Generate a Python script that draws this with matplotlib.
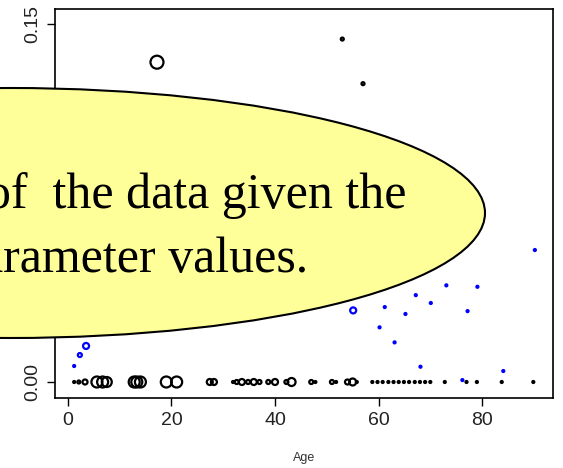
import matplotlib
matplotlib.use("Agg")
import matplotlib.pyplot as plt
from matplotlib.patches import Ellipse
import numpy as np

# black series: age, value, marker diameter (px, stands for the weight of each point)
age_blk = [1.2, 2.1, 3.3, 5.6, 6.7, 7.5, 12.8, 13.3, 14.0, 19.0, 21.0, 27.4, 28.2,
           31.9, 32.6, 33.6, 34.8, 35.9, 37.0, 38.7, 40.0, 42.2, 43.2, 47.0, 47.8,
           51.0, 51.8, 54.0, 55.0, 55.8, 58.8, 59.8, 60.8, 61.9, 62.9, 63.9, 64.9,
           65.9, 67.0, 68.0, 69.0, 70.0, 72.8, 77.0, 79.0, 83.8, 89.9,
           17.2, 53.0, 57.0]
val_blk = [0.0] * 47 + [0.134, 0.1437, 0.125]
w_blk = [2, 3, 5, 11, 11, 10, 11, 11, 11, 11, 11, 6, 6,
         2, 4, 6, 4, 6, 4, 4, 6, 4, 8, 4, 2,
         4, 2, 5, 7, 2, 2, 2, 2, 2, 2, 2, 2,
         2, 2, 2, 2, 2, 2, 2, 2, 2, 2,
         13, 3, 3]

# blue series
age_blu = [1.2, 2.3, 3.5, 55.1, 60.2, 61.2, 63.1, 65.2, 67.2, 68.1, 70.1, 73.1,
           76.2, 77.2, 79.1, 84.1, 90.2]
val_blu = [0.0067, 0.0113, 0.0151, 0.0300, 0.0229, 0.0314, 0.0166, 0.0285, 0.0364,
           0.0064, 0.0331, 0.0405, 0.0008, 0.0297, 0.0399, 0.0046, 0.0553]
w_blu = [2, 4, 6, 6, 2, 2, 2, 2, 2, 2, 2, 2, 2, 2, 2, 2, 2]

xticks = [0, 20, 40, 60, 80]
yticks = [0.00, 0.05, 0.10, 0.15]

plt.rcParams['font.family'] = ['Liberation Sans', 'DejaVu Sans']

fig = plt.figure(figsize=(5.63, 4.68), dpi=100)
ax = fig.add_axes([0.0977, 0.1496, 0.8845, 0.8312])

def sz(w):
    return (np.array(w) * 0.72) ** 2

ax.scatter(age_blk, val_blk, s=sz(w_blk), facecolors="none", edgecolors="black",
           linewidths=1.6)
ax.scatter(age_blu, val_blu, s=sz(w_blu), facecolors="none", edgecolors="#0000ff",
           linewidths=1.6)

ax.set_xlim(-2.5, 93.7)
ax.set_ylim(-0.0067, 0.1563)
ax.set_xticks(xticks)
ax.set_xticklabels([str(t) for t in xticks])
ax.set_yticks(yticks)
ax.set_yticklabels(["%.2f" % t for t in yticks], rotation=90, va="center")
ax.tick_params(direction="out", length=6, width=1, labelsize=14, pad=4,
               labelcolor="#222222")
for s in ax.spines.values():
    s.set_linewidth(1.2)
ax.set_xlabel("Age", fontsize=9, color="#333333", labelpad=17)

# callout bubble on top
ell = Ellipse((10 / 563, 1 - 213 / 468), 950 / 563, 250 / 468,
              transform=fig.transFigure, facecolor="#ffff99", edgecolor="black",
              linewidth=1.5, zorder=10)
fig.patches.append(ell)
fig.text(406 / 563, 1 - 208 / 468, "of  the data given the", ha="right",
         va="baseline", fontsize=36, family="Liberation Serif", zorder=11)
fig.text(308 / 563, 1 - 272 / 468, "parameter values.", ha="right",
         va="baseline", fontsize=36, family="Liberation Serif", zorder=11)

fig.savefig("out.png", dpi=100)
